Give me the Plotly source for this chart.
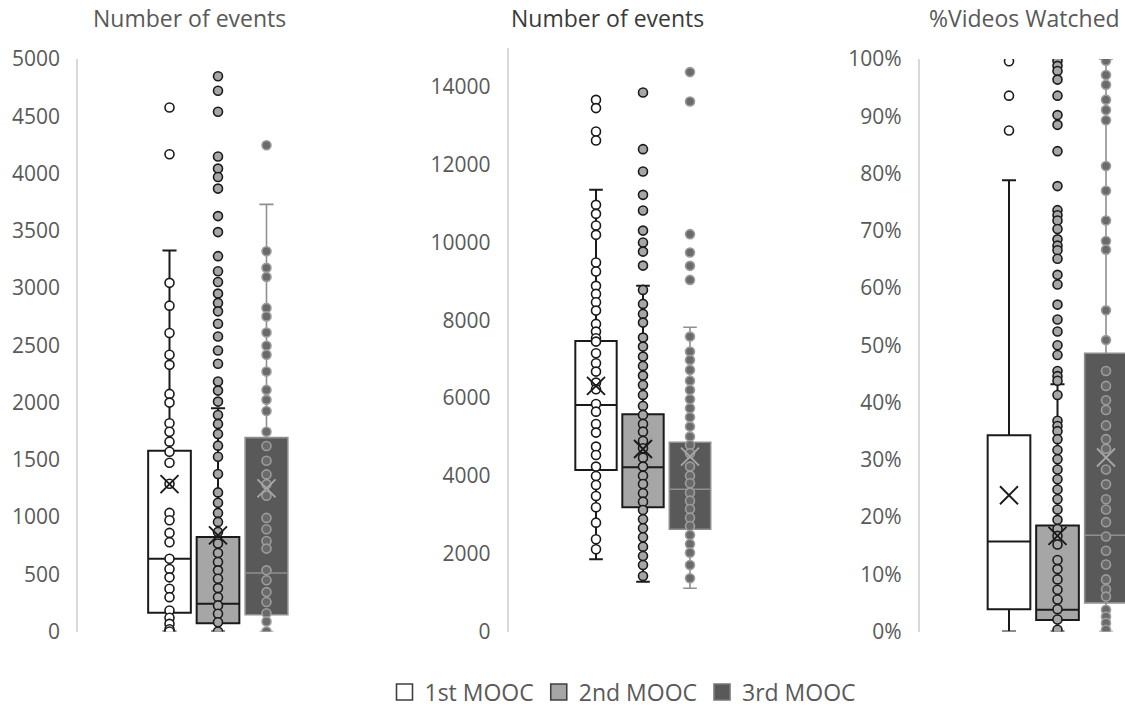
import plotly.graph_objects as go

# ---------------- data ----------------
SERIES = ["1st MOOC", "2nd MOOC", "3rd MOOC"]

# Panel A: number of events (first scale)
A_M1 = [4577, 4168, 3045, 2846, 2607, 2417, 2329, 2075, 1999, 1819, 1745, 1658, 1570, 1474,
        1290, 1036, 972, 861, 779, 636, 546, 473, 374, 300, 184, 120, 67, 20, 0]
A_M2 = [4849, 4723, 4539, 4148, 4043, 3970, 3868, 3628, 3488, 3278, 3146, 3053, 2951, 2870,
        2796, 2688, 2577, 2454, 2338, 2183, 2104, 2008, 1891, 1813, 1725, 1623, 1526, 1375,
        1215, 1124, 1036, 957, 870, 768, 686, 607, 534, 461, 379, 300, 228, 155, 81, 0]
A_M3 = [4247, 3321, 3176, 3097, 2826, 2752, 2612, 2496, 2417, 2271, 2110, 2023, 1926, 1745,
        1620, 1491, 1372, 1287, 1185, 992, 893, 791, 724, 534, 447, 344, 257, 160, 88, 0]
A_Q1 = [164, 73, 146]
A_MED = [636, 243, 511]
A_Q3 = [1579, 826, 1693]
A_LO = [0, 0, 0]
A_HI = [3327, 1950, 3730]
A_MEAN = [1287, 840, 1250]

# Panel B: number of events (second scale)
B_M1 = [13663, 13450, 12848, 12617, 10964, 10733, 10432, 10193, 9481, 9250, 8882, 8676, 8463,
        8247, 7905, 7707, 7537, 7450, 7152, 6895, 6679, 6396, 6226, 5848, 5650, 5334, 5111,
        4751, 4537, 4237, 3997, 3766, 3483, 3192, 2797, 2370, 2113]
B_M2 = [13851, 12396, 11820, 11221, 10818, 10303, 9995, 9763, 9403, 8779, 8419, 8162, 7938,
        7553, 7321, 7064, 6825, 6576, 6337, 6080, 5797, 5566, 5334, 5136, 4897, 4710, 4468,
        4237, 4005, 3792, 3553, 3337, 3123, 2884, 2653, 2422, 2180, 1941, 1710, 1427]
B_M3 = [14375, 13620, 10211, 9738, 9396, 9036, 7578, 7193, 6979, 6722, 6447, 6208, 5969, 5738,
        5506, 5265, 5008, 4794, 4581, 4237, 4005, 3810, 3568, 3362, 3149, 2926, 2712, 2481,
        2249, 2026, 1710, 1368]
B_Q1 = [4152, 3192, 2627]
B_MED = [5823, 4221, 3656]
B_Q3 = [7468, 5584, 4864]
B_LO = [1856, 1280, 1111]
B_HI = [11350, 8882, 7820]
B_MEAN = [6311, 4690, 4494]

# Panel C: share of videos watched
C_M1 = [0.996, 0.936, 0.875]
C_M2 = [0.997, 0.988, 0.979, 0.964, 0.936, 0.902, 0.885, 0.839, 0.778, 0.736, 0.727, 0.718,
        0.703, 0.685, 0.674, 0.666, 0.651, 0.623, 0.606, 0.571, 0.545, 0.524, 0.500, 0.483,
        0.455, 0.446, 0.438, 0.413, 0.368, 0.359, 0.350, 0.336, 0.317, 0.301, 0.283, 0.266,
        0.248, 0.231, 0.213, 0.195, 0.179, 0.167, 0.152, 0.125, 0.109, 0.091, 0.073, 0.056,
        0.039, 0.021, 0.003]
C_M3 = [0.997, 0.972, 0.955, 0.929, 0.911, 0.893, 0.813, 0.770, 0.718, 0.682, 0.667, 0.561,
        0.509, 0.455, 0.429, 0.404, 0.387, 0.360, 0.336, 0.319, 0.283, 0.257, 0.231, 0.213,
        0.191, 0.166, 0.141, 0.117, 0.091, 0.074, 0.061, 0.038, 0.026, 0.015, 0.003]
C_Q1 = [0.039, 0.020, 0.050]
C_MED = [0.157, 0.038, 0.168]
C_Q3 = [0.343, 0.185, 0.486]
C_LO = [0.0, 0.0, 0.0]
C_HI = [0.788, 0.432, 1.0]
C_MEAN = [0.238, 0.167, 0.304]

TITLES = ["Number of events", "Number of events", "%Videos Watched"]

# ---------------- styling ----------------
W, H = 1125, 713
FONT = "Open Sans"
TICK_COLOR = "#595959"

BOX_FILL = ["#ffffff", "#a6a6a6", "#595959"]
BOX_LINE = ["#1a1a1a", "#1a1a1a", "#8f8f8f"]
PT_FILL = ["#ffffff", "#a6a6a6", "#6a6a6a"]
PT_LINE = ["#1a1a1a", "#1a1a1a", "#9c9c9c"]
MEAN_COLOR = ["#1a1a1a", "#1a1a1a", "#a6a6a6"]

# pixel geometry of each panel: axis-line x, right edge, first box centre, spacing, top y
PANELS = [
    dict(left=78, right=358, c0=169.5, unit=48.5, top=59.0),
    dict(left=508.5, right=778, c0=596.0, unit=47.0, top=47.8),
    dict(left=919.5, right=1125, c0=1009.0, unit=48.5, top=59.0),
]
BOTTOM = 631.5
TITLE_X = [189, 607, 1024]

panel_points = [[A_M1, A_M2, A_M3], [B_M1, B_M2, B_M3], [C_M1, C_M2, C_M3]]
panel_stats = [
    (A_Q1, A_MED, A_Q3, A_LO, A_HI, A_MEAN),
    (B_Q1, B_MED, B_Q3, B_LO, B_HI, B_MEAN),
    (C_Q1, C_MED, C_Q3, C_LO, C_HI, C_MEAN),
]

fig = go.Figure()

for p in range(3):
    xa = "x" if p == 0 else f"x{p + 1}"
    ya = "y" if p == 0 else f"y{p + 1}"
    q1, med, q3, lo, hi, mean = panel_stats[p]
    for s in range(3):
        fig.add_trace(go.Box(
            x=[s], q1=[q1[s]], median=[med[s]], q3=[q3[s]],
            lowerfence=[lo[s]], upperfence=[hi[s]],
            width=0.88, whiskerwidth=0.33, boxpoints=False,
            fillcolor=BOX_FILL[s],
            line=dict(color=BOX_LINE[s], width=2 if s < 2 else 1.6),
            xaxis=xa, yaxis=ya, showlegend=False, hoverinfo="skip",
        ))
    for s in range(3):
        pts = panel_points[p][s]
        fig.add_trace(go.Scatter(
            x=[s] * len(pts), y=pts, mode="markers",
            marker=dict(symbol="circle", size=9, color=PT_FILL[s],
                        line=dict(color=PT_LINE[s], width=1.6)),
            xaxis=xa, yaxis=ya, showlegend=False, hoverinfo="skip",
        ))
    for s in range(3):
        fig.add_trace(go.Scatter(
            x=[s], y=[mean[s]], mode="markers",
            marker=dict(symbol="x-thin", size=18,
                        line=dict(color=MEAN_COLOR[s], width=1.9)),
            xaxis=xa, yaxis=ya, showlegend=False, hoverinfo="skip",
        ))

# legend entries
for s in range(3):
    fig.add_trace(go.Scatter(
        x=[None], y=[None], mode="markers", name=SERIES[s],
        marker=dict(symbol="square", size=20, color=BOX_FILL[s],
                    line=dict(color="#404040" if s < 2 else "#7a7a7a", width=1.6)),
    ))

layout = dict(
    width=W, height=H,
    margin=dict(l=0, r=0, t=0, b=0, autoexpand=False),
    paper_bgcolor="white", plot_bgcolor="white",
    font=dict(family=FONT, color=TICK_COLOR),
    showlegend=True,
    legend=dict(orientation="h", xref="container", yref="container",
                x=623 / W, xanchor="center", y=(H - 692) / H, yanchor="middle",
                font=dict(size=23, color=TICK_COLOR, family=FONT),
                itemwidth=30, tracegroupgap=0, bgcolor="rgba(0,0,0,0)"),
)

tick_sets = [
    dict(range=[0, 5000], tickvals=list(range(0, 5001, 500)), tickformat="d"),
    dict(range=[0, 15000], tickvals=list(range(0, 14001, 2000)), tickformat="d"),
    dict(range=[0, 1.0], tickvals=[i / 10 for i in range(11)], tickformat=".0%"),
]

annotations = []
for p, g in enumerate(PANELS):
    xk = "xaxis" if p == 0 else f"xaxis{p + 1}"
    yk = "yaxis" if p == 0 else f"yaxis{p + 1}"
    xr = [(g["left"] - g["c0"]) / g["unit"], (g["right"] - g["c0"]) / g["unit"]]
    layout[xk] = dict(domain=[g["left"] / W, min(g["right"] / W, 1.0)], range=xr,
                      visible=False, fixedrange=True,
                      anchor="y" if p == 0 else f"y{p + 1}")
    layout[yk] = dict(domain=[(H - BOTTOM) / H, (H - g["top"]) / H],
                      anchor="x" if p == 0 else f"x{p + 1}",
                      showgrid=False, zeroline=False, automargin=False,
                      showline=True, linecolor="#d9d9d9", linewidth=1.5,
                      ticks="", ticklabelstandoff=12,
                      tickfont=dict(size=21, color=TICK_COLOR, family=FONT),
                      **tick_sets[p])
    annotations.append(dict(
        text=TITLES[p], x=TITLE_X[p] / W, y=(H - 18) / H, xref="paper", yref="paper",
        xanchor="center", yanchor="middle", showarrow=False,
        font=dict(size=23, color="#3a3a3a" if p == 1 else TICK_COLOR, family=FONT),
    ))

layout["annotations"] = annotations
fig.update_layout(**layout)

fig.write_html("out.html")
